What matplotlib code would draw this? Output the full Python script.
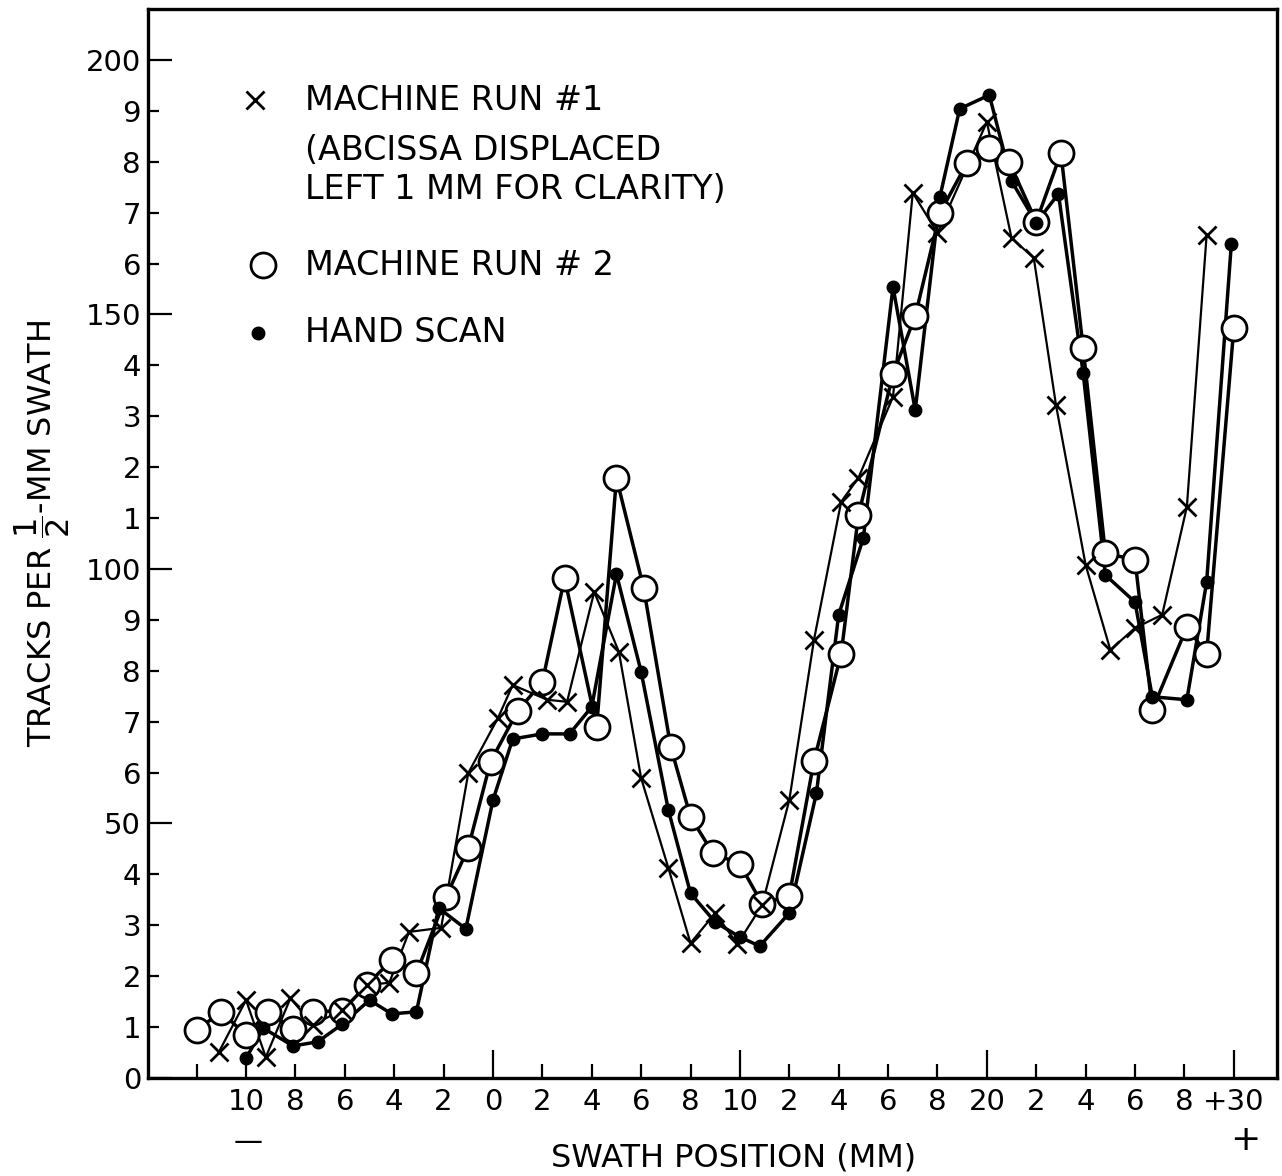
import matplotlib
matplotlib.use("Agg")
import matplotlib.pyplot as plt

# machine run #1 (crosses)
run1_x = [-11.1, -10.0, -9.2, -8.2, -7.3, -6.1, -5.1, -4.2, -3.4, -2.1, -1.0, 0.2, 0.8, 2.2,
          3.0, 4.1, 5.1, 6.0, 7.1, 8.0, 9.0, 9.9, 10.9, 12.0, 13.0, 14.1, 14.8, 16.2, 17.0,
          18.0, 20.0, 21.0, 21.9, 22.8, 24.0, 25.0, 26.0, 27.1, 28.1, 28.9]
run1_y = [5.1, 15.3, 4.1, 15.7, 10.4, 13.4, 18.3, 18.7, 28.7, 29.5, 59.9, 70.7, 77.2, 74.3,
          73.9, 95.5, 83.7, 58.9, 41.3, 26.5, 32.4, 26.3, 34.0, 54.6, 86.1, 113.2, 117.9,
          133.8, 173.9, 166.0, 187.8, 165.0, 161.1, 132.2, 100.8, 84.1, 88.4, 91.0, 112.2,
          165.6]

# machine run #2 (open circles)
run2_x = [-12.0, -11.0, -10.0, -9.1, -8.1, -7.3, -6.1, -5.1, -4.1, -3.1, -1.9, -1.0, -0.1,
          1.0, 2.0, 2.9, 4.2, 5.0, 6.1, 7.2, 8.0, 8.9, 10.0, 10.9, 12.0, 13.0, 14.1, 14.8,
          16.2, 17.1, 18.1, 19.2, 20.1, 20.9, 22.0, 23.0, 23.9, 24.8, 26.0, 26.7, 28.1,
          28.9, 30.0]
run2_y = [9.4, 13.0, 8.4, 13.0, 9.6, 13.0, 13.2, 18.3, 23.2, 20.6, 35.6, 45.2, 62.1, 72.1,
          77.8, 98.2, 69.0, 117.9, 96.3, 65.0, 51.3, 44.2, 42.0, 34.2, 35.8, 62.3, 83.3,
          110.6, 138.3, 149.7, 169.9, 179.8, 182.7, 180.0, 168.2, 181.7, 143.4, 103.1,
          101.8, 72.3, 88.6, 83.3, 147.3]

# hand scan (filled dots)
hand_x = [-10.0, -9.3, -8.1, -7.1, -6.1, -5.0, -4.1, -3.1, -2.2, -1.1, 0.0, 0.8, 2.0, 3.1,
          4.0, 5.0, 6.0, 7.1, 8.0, 9.0, 10.0, 10.8, 12.0, 13.1, 14.0, 15.0, 16.2, 17.1,
          18.1, 18.9, 20.1, 21.0, 22.0, 22.9, 23.9, 24.8, 26.0, 26.7, 28.1, 28.9, 29.9]
hand_y = [3.9, 9.8, 6.3, 7.1, 10.6, 15.3, 12.6, 13.0, 33.4, 29.3, 54.6, 66.6, 67.6, 67.6,
          72.9, 99.0, 79.8, 52.7, 36.3, 30.6, 27.7, 25.9, 32.4, 56.0, 91.0, 106.1, 155.4,
          131.2, 173.1, 190.4, 193.1, 176.2, 168.0, 173.7, 138.5, 98.8, 93.5, 74.9, 74.3,
          97.4, 163.8]

xmaj = [0, 10, 20, 30]
xmaj_labels = ["0", "10", "20", "+30"]
xmin = [-12, -10, -8, -6, -4, -2, 2, 4, 6, 8, 12, 14, 16, 18, 22, 24, 26, 28]
xmin_labels = ["", "10", "8", "6", "4", "2", "2", "4", "6", "8",
               "2", "4", "6", "8", "2", "4", "6", "8"]
ymaj = [0, 50, 100, 150, 200]
ymaj_labels = ["0", "50", "100", "150", "200"]
ymin = [v for v in range(10, 200, 10) if v % 50]
ymin_labels = [str((v // 10) % 10) for v in ymin]

plt.rcParams['font.family'] = ['DejaVu Sans']

fig = plt.figure(figsize=(12.82, 11.76), dpi=100)
ax = fig.add_axes([148 / 1282, 1 - 1078 / 1176, 1129 / 1282, 1069 / 1176])

# lines first, then markers on top
ax.plot(run1_x, run1_y, color='black', lw=1.6, zorder=2)
ax.plot(run2_x, run2_y, color='black', lw=2.5, zorder=2)
ax.plot(hand_x, hand_y, color='black', lw=2.5, zorder=2)
ax.plot(run2_x, run2_y, ls='none', marker='o', ms=18, mfc='white', mec='black', mew=2.0, zorder=3)
ax.plot(run1_x, run1_y, ls='none', marker='x', ms=13, mec='black', mew=2.0, zorder=4)
ax.plot(hand_x, hand_y, ls='none', marker='o', ms=9, mfc='black', mec='black', zorder=4)

ax.set_xlim(-13.97, 31.75)
ax.set_ylim(0, 210)

ax.set_xticks(xmaj, xmaj_labels)
ax.set_xticks(xmin, xmin_labels, minor=True)
ax.set_yticks(ymaj, ymaj_labels)
ax.set_yticks(ymin, ymin_labels, minor=True)
ax.tick_params(axis='x', which='major', direction='in', length=20, width=1.6, labelsize=21, pad=7)
ax.tick_params(axis='x', which='minor', direction='in', length=10, width=1.6, labelsize=21, pad=7)
ax.tick_params(axis='y', which='major', direction='in', length=17, width=1.6, labelsize=21, pad=5)
ax.tick_params(axis='y', which='minor', direction='in', length=8, width=1.6, labelsize=21, pad=5)

for s in ax.spines.values():
    s.set_linewidth(2.4)

# legend drawn by hand like the original
ax.plot([-9.64], [192.1], ls='none', marker='x', ms=13, mec='black', mew=2.0)
ax.plot([-9.3], [159.7], ls='none', marker='o', ms=18, mfc='white', mec='black', mew=2.0)
ax.plot([-9.5], [146.4], ls='none', marker='o', ms=9, mfc='black', mec='black')
leg_kw = dict(fontsize=24, ha='left', va='center')
ax.text(-7.6, 192.1, "MACHINE RUN #1", **leg_kw)
ax.text(-7.6, 182.3, "(ABCISSA DISPLACED", **leg_kw)
ax.text(-7.6, 174.5, "LEFT 1 MM FOR CLARITY)", **leg_kw)
ax.text(-7.6, 159.7, "MACHINE RUN # 2", **leg_kw)
ax.text(-7.6, 146.4, "HAND SCAN", **leg_kw)

fig.text(734 / 1282, 1 - 1158 / 1176, "SWATH POSITION (MM)", fontsize=23, ha='center', va='center')
fig.text(42 / 1282, 1 - 533 / 1176, r"TRACKS PER $\dfrac{1}{2}$-MM SWATH", fontsize=23,
         rotation=90, ha='center', va='center')
fig.text(248 / 1282, 1 - 1142 / 1176, "\u2014", fontsize=21, ha='center', va='center')
fig.text(1245 / 1282, 1 - 1140 / 1176, "+", fontsize=26, ha='center', va='center')

fig.savefig("out.png", dpi=100)
